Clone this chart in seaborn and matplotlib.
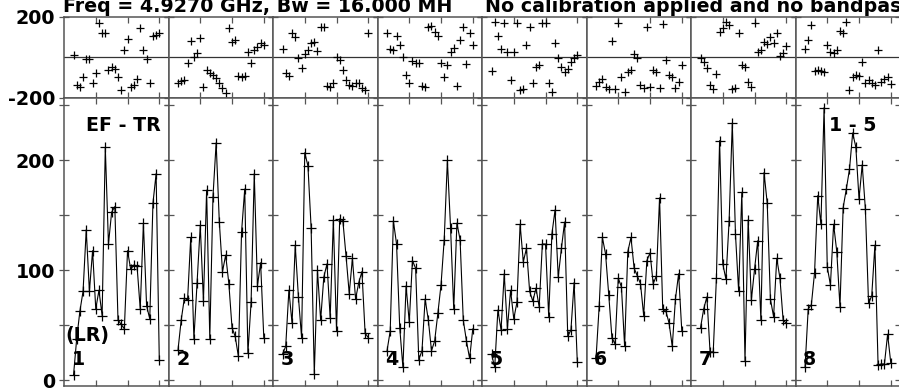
import matplotlib
matplotlib.use("Agg")
import matplotlib.pyplot as plt
import seaborn as sns

# ---------------- data ----------------
CHANNELS = [3, 4, 5, 6, 7, 8, 9, 10, 11, 12, 13, 14, 15, 16, 17, 18, 19, 20,
            21, 22, 23, 24, 25, 26, 27, 28, 29, 30]
PANEL_NUMBERS = ["1", "2", "3", "4", "5", "6", "7", "8"]

amp_1 = [5, 38, 63, 81, 137, 81, 118, 65, 82, 59, 212, 124, 153, 158, 55, 51, 47, 118, 101, 105, 104, 65, 143, 68, 56, 161, 188, 19]
amp_2 = [28, 55, 75, 73, 130, 38, 89, 141, 72, 173, 38, 167, 216, 144, 99, 114, 88, 48, 40, 22, 135, 174, 25, 71, 188, 86, 107, 39]
amp_3 = [24, 31, 82, 52, 123, 76, 39, 207, 195, 139, 6, 100, 55, 94, 106, 57, 146, 45, 147, 145, 113, 79, 111, 74, 89, 99, 43, 39]
amp_4 = [27, 45, 145, 124, 48, 12, 86, 53, 109, 102, 19, 27, 74, 55, 27, 36, 61, 87, 128, 200, 139, 65, 143, 128, 55, 36, 20, 47]
amp_5 = [24, 12, 64, 46, 97, 47, 82, 56, 71, 142, 108, 120, 81, 72, 84, 67, 124, 124, 58, 133, 155, 94, 120, 144, 40, 46, 89, 17]
amp_6 = [20, 68, 130, 115, 78, 39, 33, 93, 85, 31, 117, 130, 102, 95, 88, 59, 109, 116, 88, 95, 166, 65, 63, 52, 31, 74, 97, 45]
amp_7 = [48, 65, 76, 26, 26, 93, 218, 106, 92, 145, 234, 133, 81, 171, 18, 146, 73, 101, 127, 55, 189, 161, 74, 58, 111, 93, 55, 52]
amp_8 = [12, 65, 69, 98, 168, 142, 248, 103, 87, 142, 117, 67, 157, 174, 192, 225, 212, 165, 196, 156, 70, 77, 123, 14, 15, 15, 42, 16]

phase_1 = [12, -137, -148, -96, -10, -10, -125, -76, 171, 122, 122, -63, -46, -59, -96, -161, 36, 89, -148, -137, -109, 143, 36, -10, -128, 105, 110, 118]
phase_2 = [-125, -115, -112, -30, 82, 3, 20, 94, -148, -63, -76, -87, -104, -128, -153, -178, 143, 77, 86, -92, -96, -92, 28, -26, 36, 49, 72, 60]
phase_3 = [40, -79, -92, 119, 99, -5, -54, 16, 36, 69, 77, 33, 148, 152, -140, -145, -128, 0, -13, -63, -112, -137, -142, -125, -128, -153, -161, 119]
phase_4 = [119, 40, 36, 105, 61, 0, -90, -125, -16, -26, -30, -142, -148, 152, 155, 127, 105, -30, -99, -38, 28, 44, -142, 85, 152, -33, 119, 60]
phase_5 = [-66, 176, 105, 40, 168, 28, -112, 28, 168, -161, -158, 61, 152, -125, -46, -38, 168, 171, -128, -170, 69, -5, -46, -71, -60, -21, -5, 10]
phase_6 = [-142, -120, -109, -148, -158, 82, -155, 168, -96, -170, -71, -63, 16, -5, -137, -153, 148, -145, -63, -71, -153, 165, -13, -87, -99, -153, -120, -40]
phase_7 = [-5, -21, -54, -137, -158, -82, 127, 143, 176, 160, -158, -153, 119, -38, -46, -120, -148, 168, 28, 36, 77, 66, 99, 69, 119, 7, 20, 55]
phase_8 = [40, 86, 160, -66, -63, -66, -71, 61, 28, 20, 36, 132, 119, 176, -161, -96, -87, -92, -21, -128, -112, -125, -137, 36, -120, -109, -100, -130]

AMPS = [amp_1, amp_2, amp_3, amp_4, amp_5, amp_6, amp_7, amp_8]
PHASES = [phase_1, phase_2, phase_3, phase_4, phase_5, phase_6, phase_7, phase_8]

PHASE_TICKS = [-200, 200]
PHASE_TICK_LABELS = ["-200", "200"]
AMP_TICKS = [0, 50, 100, 150, 200, 250]
AMP_TICK_LABELS = ["0", "", "100", "", "200", ""]
X_TICKS = [10, 20, 30]

TITLE_1 = "Freq = 4.9270 GHz, Bw = 16.000 MH"
TITLE_2 = "No calibration applied and no bandpass"
BASELINE_LABEL = "EF - TR"
POL_LABEL = "(LR)"
IF_RANGE_LABEL = "1 - 5"

# ---------------- style ----------------
sns.set_style("white")
plt.rcParams["font.family"] = ["DejaVu Sans"]
plt.rcParams["font.weight"] = "bold"
plt.rcParams["font.size"] = 13.7
plt.rcParams["axes.unicode_minus"] = False
plt.rcParams["text.color"] = "black"
plt.rcParams["ytick.labelcolor"] = "black"
plt.rcParams["xtick.labelcolor"] = "black"

W, H = 899, 389
fig = plt.figure(figsize=(W / 100, H / 100), dpi=100)

LEFT_PX = 64.0
PANEL_W_PX = 104.5
PH_TOP, PH_BOT = 16.9, 97.7
AM_TOP, AM_BOT = 97.7, 386.0
SPINE = "#555555"

for k in range(8):
    x0 = (LEFT_PX + k * PANEL_W_PX) / W
    w = PANEL_W_PX / W
    axp = fig.add_axes([x0, 1 - PH_BOT / H, w, (PH_BOT - PH_TOP) / H])
    axa = fig.add_axes([x0, 1 - AM_BOT / H, w, (AM_BOT - AM_TOP) / H])

    # phase panel
    axp.axhline(0, color="#333333", lw=0.9, zorder=1)
    sns.scatterplot(x=CHANNELS, y=PHASES[k], ax=axp, marker="+", s=40,
                    color="black", linewidth=0.9, zorder=3, legend=False)
    axp.set_xlim(0, 32.9)
    axp.set_ylim(-200, 200)
    axp.set_yticks(PHASE_TICKS)
    axp.set_xticks(X_TICKS)
    axp.tick_params(axis="y", direction="inout", length=7, width=0.9,
                    color=SPINE, labelcolor="black", left=True, right=True, pad=3)
    axp.tick_params(axis="x", direction="in", length=4.5, width=0.9,
                    color=SPINE, top=True, bottom=True, labelbottom=False)
    if k == 0:
        axp.set_yticklabels(PHASE_TICK_LABELS, fontweight="bold", color="black")
    else:
        axp.set_yticklabels([])
    axp.set_xlabel("")
    axp.set_ylabel("")

    # amplitude panel
    sns.lineplot(x=CHANNELS, y=AMPS[k], ax=axa, color="black", linewidth=0.8,
                 marker="+", markersize=7.5, markeredgewidth=0.9,
                 markeredgecolor="black", estimator=None, sort=False,
                 legend=False)
    axa.set_xlim(0, 32.9)
    axa.set_ylim(-5, 257)
    axa.set_yticks(AMP_TICKS)
    axa.set_xticks(X_TICKS)
    axa.tick_params(axis="y", direction="inout", length=7, width=0.9,
                    color=SPINE, labelcolor="black", left=True, right=True, pad=3)
    axa.tick_params(axis="x", direction="in", length=4.5, width=0.9,
                    color=SPINE, top=True, bottom=True, labelbottom=False)
    if k == 0:
        axa.set_yticklabels(AMP_TICK_LABELS, fontweight="bold", color="black")
    else:
        axa.set_yticklabels([])
    axa.set_xlabel("")
    axa.set_ylabel("")

    axa.text(2.4, 14, PANEL_NUMBERS[k], ha="left", va="baseline",
             fontweight="bold", color="black", zorder=5)
    if k == 0:
        axa.text(0.4, 36, POL_LABEL, ha="left", va="baseline",
                 fontweight="bold", color="black", zorder=5)
        axa.text(7.0, 227, BASELINE_LABEL, ha="left", va="baseline",
                 fontweight="bold", color="black", zorder=5)
    if k == 7:
        axa.text(10.4, 227, IF_RANGE_LABEL, ha="left", va="baseline",
                 fontweight="bold", color="black", zorder=5)

    for ax in (axp, axa):
        for sp in ax.spines.values():
            sp.set_color(SPINE)
            sp.set_linewidth(1.1)

fig.text(63 / W, 1 - 12.5 / H, TITLE_1, ha="left", va="baseline",
         fontweight="bold", color="black")
fig.text(485 / W, 1 - 12.5 / H, TITLE_2, ha="left", va="baseline",
         fontweight="bold", color="black")

fig.savefig("out.png", dpi=100)
